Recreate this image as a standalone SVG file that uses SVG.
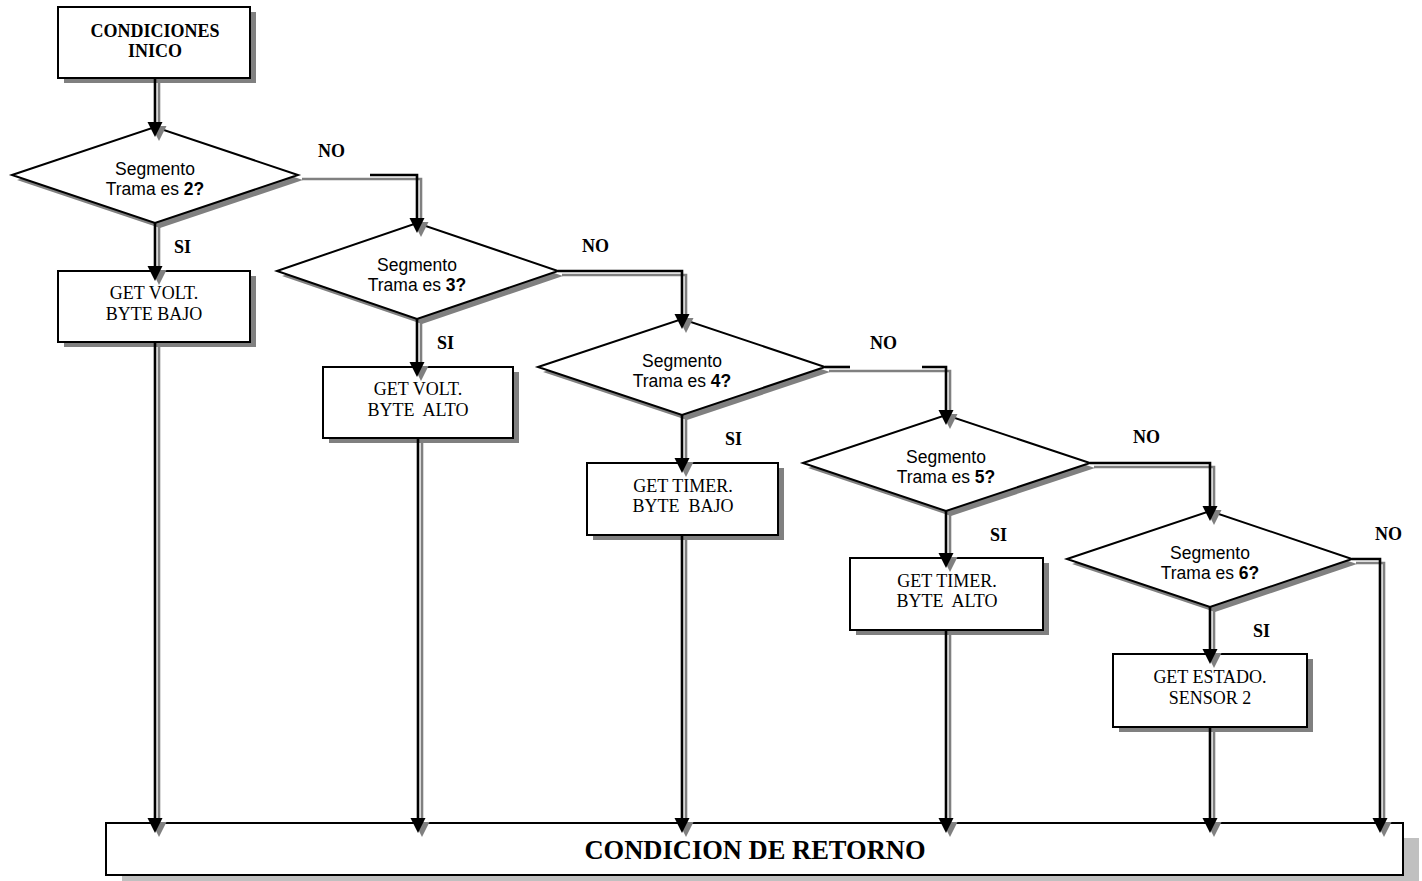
<svg xmlns="http://www.w3.org/2000/svg" width="1422" height="881" viewBox="0 0 1422 881">
  <style>
    .shape{fill:#fff;stroke:#000;stroke-width:2}
    .shd{fill:#808080}
    .shd2{fill:#c0c0c0}
    .wire{fill:none;stroke:#000;stroke-width:2.6;marker-end:url(#ah)}
    .wire-plain{fill:none;stroke:#000;stroke-width:2.6}
    .wire-s{fill:none;stroke:#808080;stroke-width:2.6;marker-end:url(#ahs)}
    .q{font-family:"Liberation Sans",Arial,sans-serif;font-size:17.5px;text-anchor:middle;fill:#000}
    .q b,.q .b{font-weight:bold}
    .t{font-family:"Liberation Serif","Times New Roman",serif;font-size:18px;text-anchor:middle;white-space:pre;fill:#000}
    .tb{font-family:"Liberation Serif","Times New Roman",serif;font-size:18px;font-weight:bold;text-anchor:middle;fill:#000}
    .lbl{font-family:"Liberation Serif","Times New Roman",serif;font-size:18px;font-weight:bold;fill:#000}
    .big{font-family:"Liberation Serif","Times New Roman",serif;font-size:26.5px;font-weight:bold;text-anchor:middle;fill:#000}
  </style>
  <defs>
    <marker id="ah" markerUnits="userSpaceOnUse" markerWidth="16" markerHeight="16" viewBox="0 -8 16 16" refX="5" refY="0" orient="auto">
      <path d="M0,-7.5 L15,0 L0,7.5 Z" fill="#000"/>
    </marker>
    <marker id="ahs" markerUnits="userSpaceOnUse" markerWidth="16" markerHeight="16" viewBox="0 -8 16 16" refX="5" refY="0" orient="auto">
      <path d="M0,-7.5 L15,0 L0,7.5 Z" fill="#808080"/>
    </marker>
  </defs>

  <rect width="1422" height="881" fill="#fff"/>

  <!-- start block -->
  <g id="inicio">
    <rect class="shd" x="64" y="12" width="192" height="71"/>
    <rect class="shape" x="58" y="7" width="192" height="71"/>
    <text class="tb" x="155" y="37">CONDICIONES</text>
    <text class="tb" x="155" y="57">INICO</text>
  </g>

  <!-- decisions -->
  <g id="dec2">
    <polygon class="shd" points="17,180 160,132 303,180 160,228"/>
    <polygon class="shape" points="12,175 155,127 298,175 155,223"/>
    <text class="q" x="155" y="175">Segmento</text>
    <text class="q" x="155" y="195">Trama es <tspan class="b">2?</tspan></text>
  </g>
  <g id="dec3">
    <polygon class="shd" points="282,276 422,228 563,276 422,324"/>
    <polygon class="shape" points="277,271 417,223 558,271 417,319"/>
    <text class="q" x="417" y="271">Segmento</text>
    <text class="q" x="417" y="291">Trama es <tspan class="b">3?</tspan></text>
  </g>
  <g id="dec4">
    <polygon class="shd" points="543,372 687,324 830,372 687,420"/>
    <polygon class="shape" points="538,367 682,319 825,367 682,415"/>
    <text class="q" x="682" y="367">Segmento</text>
    <text class="q" x="682" y="387">Trama es <tspan class="b">4?</tspan></text>
  </g>
  <g id="dec5">
    <polygon class="shd" points="808,468 951,420 1095,468 951,516"/>
    <polygon class="shape" points="803,463 946,415 1090,463 946,511"/>
    <text class="q" x="946" y="463">Segmento</text>
    <text class="q" x="946" y="483">Trama es <tspan class="b">5?</tspan></text>
  </g>
  <g id="dec6">
    <polygon class="shd" points="1072,564 1215,516 1357,564 1215,612"/>
    <polygon class="shape" points="1067,559 1210,511 1352,559 1210,607"/>
    <text class="q" x="1210" y="559">Segmento</text>
    <text class="q" x="1210" y="579">Trama es <tspan class="b">6?</tspan></text>
  </g>

  <!-- processes -->
  <g id="voltBajo">
    <rect class="shd" x="64" y="276" width="192" height="71"/>
    <rect class="shape" x="58" y="271" width="192" height="71"/>
    <text class="t" x="154" y="299">GET VOLT.</text>
    <text class="t" x="154" y="320">BYTE BAJO</text>
  </g>
  <g id="voltAlto">
    <rect class="shd" x="329" y="372" width="190" height="71"/>
    <rect class="shape" x="323" y="367" width="190" height="71"/>
    <text class="t" x="418" y="395">GET VOLT.</text>
    <text class="t" x="418" y="416">BYTE  ALTO</text>
  </g>
  <g id="timerBajo">
    <rect class="shd" x="593" y="468" width="191" height="72"/>
    <rect class="shape" x="587" y="463" width="191" height="72"/>
    <text class="t" x="683" y="492">GET TIMER.</text>
    <text class="t" x="683" y="512">BYTE  BAJO</text>
  </g>
  <g id="timerAlto">
    <rect class="shd" x="856" y="563" width="193" height="72"/>
    <rect class="shape" x="850" y="558" width="193" height="72"/>
    <text class="t" x="947" y="587">GET TIMER.</text>
    <text class="t" x="947" y="607">BYTE  ALTO</text>
  </g>
  <g id="estado">
    <rect class="shd" x="1119" y="659" width="194" height="73"/>
    <rect class="shape" x="1113" y="654" width="194" height="73"/>
    <text class="t" x="1210" y="683">GET ESTADO.</text>
    <text class="t" x="1210" y="704">SENSOR 2</text>
  </g>

  <!-- return block -->
  <g id="retorno">
    <rect class="shd2" x="122" y="838" width="1297" height="52"/>
    <rect class="shape" x="106" y="823" width="1297" height="52"/>
    <text class="big" x="755" y="859">CONDICION DE RETORNO</text>
  </g>

  <!-- connectors: gray offset copy first, black line on top -->
  <g id="connectors">
    <g transform="translate(4,4)">
      <path class="wire-s" d="M155,78 V127"/>
      <path class="wire-s" d="M155,223 V271"/>
      <path class="wire-s" d="M298,175 H417 V223"/>
      <path class="wire-s" d="M417,319 V367"/>
      <path class="wire-s" d="M558,271 H682 V319"/>
      <path class="wire-s" d="M682,415 V463"/>
      <path class="wire-s" d="M825,367 H946 V415"/>
      <path class="wire-s" d="M946,511 V558"/>
      <path class="wire-s" d="M1090,463 H1210 V511"/>
      <path class="wire-s" d="M1210,607 V654"/>
      <path class="wire-s" d="M1352,559 H1380 V823"/>
      <path class="wire-s" d="M155,342 V823"/>
      <path class="wire-s" d="M418,438 V823"/>
      <path class="wire-s" d="M682,535 V823"/>
      <path class="wire-s" d="M946,630 V823"/>
      <path class="wire-s" d="M1210,727 V823"/>
    </g>
    <path class="wire" d="M155,78 V127"/>
    <path class="wire" d="M155,223 V271"/>
    <path class="wire" d="M370,175 H417 V223"/>
    <path class="wire" d="M417,319 V367"/>
    <path class="wire" d="M558,271 H682 V319"/>
    <path class="wire" d="M682,415 V463"/>
    <path class="wire-plain" d="M825,367 H850"/>
    <path class="wire" d="M922,367 H946 V415"/>
    <path class="wire" d="M946,511 V558"/>
    <path class="wire" d="M1090,463 H1210 V511"/>
    <path class="wire" d="M1210,607 V654"/>
    <path class="wire" d="M1352,559 H1380 V823"/>
    <path class="wire" d="M155,342 V823"/>
    <path class="wire" d="M418,438 V823"/>
    <path class="wire" d="M682,535 V823"/>
    <path class="wire" d="M946,630 V823"/>
    <path class="wire" d="M1210,727 V823"/>
  </g>

  <!-- branch labels -->
  <g id="labels">
    <text class="lbl" x="318" y="157">NO</text>
    <text class="lbl" x="174" y="253">SI</text>
    <text class="lbl" x="582" y="252">NO</text>
    <text class="lbl" x="437" y="349">SI</text>
    <text class="lbl" x="870" y="349">NO</text>
    <text class="lbl" x="725" y="445">SI</text>
    <text class="lbl" x="1133" y="443">NO</text>
    <text class="lbl" x="990" y="541">SI</text>
    <text class="lbl" x="1375" y="540">NO</text>
    <text class="lbl" x="1253" y="637">SI</text>
  </g>
</svg>
